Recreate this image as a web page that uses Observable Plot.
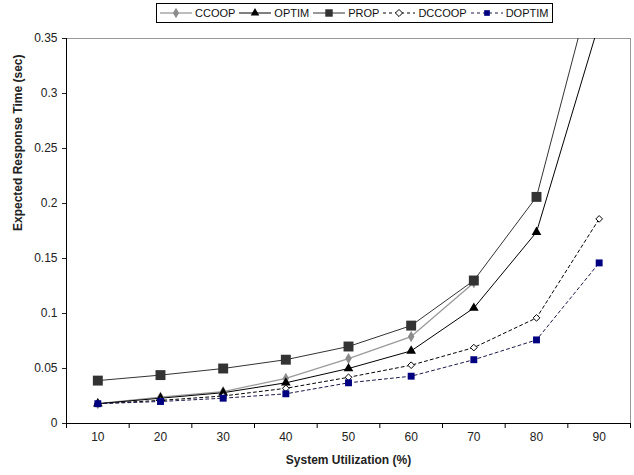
<!DOCTYPE html>
<html><head><meta charset="utf-8">
<script src="https://cdn.jsdelivr.net/npm/d3@7"></script>
<script src="https://cdn.jsdelivr.net/npm/@observablehq/plot@0.6"></script>
<style>
body{margin:0;background:#fff;font-family:"Liberation Sans",Arial,sans-serif;}
#wrap{position:relative;width:634px;height:475px;}
#legend{height:25px;position:relative;}
#legend .box{position:absolute;left:156px;top:3px;width:397px;height:20px;border:1px solid #000;display:flex;align-items:center;font-size:11px;color:#111;box-sizing:border-box;padding-left:2px;white-space:nowrap;}
#legend .item{display:flex;align-items:center;margin-right:3px;}
#legend svg{margin-right:2px;}
</style></head>
<body><div id="wrap"><div id="legend"><div class="box" id="lbox"></div></div><div id="chart"></div></div>
<script>
const utilization = [10, 20, 30, 40, 50, 60, 70, 80, 90];
const ccoop  = [0.018, 0.024, 0.029, 0.041, 0.059, 0.079, 0.128];
const optim  = [0.018, 0.023, 0.028, 0.037, 0.050, 0.066, 0.105, 0.174, 0.364];
const prop   = [0.039, 0.044, 0.050, 0.058, 0.070, 0.089, 0.130, 0.206, 0.423];
const dccoop = [0.018, 0.021, 0.025, 0.032, 0.042, 0.053, 0.069, 0.096, 0.186];
const doptim = [0.018, 0.020, 0.023, 0.027, 0.037, 0.043, 0.058, 0.076, 0.146];
const yTicks = [0, 0.05, 0.1, 0.15, 0.2, 0.25, 0.3, 0.35];
const yTickLabels = ["0", "0.05", "0.1", "0.15", "0.2", "0.25", "0.3", "0.35"];
const xTickMarks = [5, 15, 25, 35, 45, 55, 65, 75, 85, 95];
const seriesNames = ["CCOOP", "OPTIM", "PROP", "DCCOOP", "DOPTIM"];

const styles = {
  CCOOP:  {stroke:"#9a9a9a", width:1.3, dash:null, symbol:"diamond", fill:"#8c8c8c", mstroke:"none", r:3.4},
  OPTIM:  {stroke:"#000", width:1, dash:null, symbol:"triangle", fill:"#000", mstroke:"none", r:3.6},
  PROP:   {stroke:"#333", width:1, dash:null, symbol:"square", fill:"#333", mstroke:"none", r:5.6},
  DCCOOP: {stroke:"#000", width:1, dash:"3,3", symbol:"diamond2", fill:"#fff", mstroke:"#000", r:3},
  DOPTIM: {stroke:"#1a1a4a", width:1, dash:"3,3", symbol:"square", fill:"#000080", mstroke:"none", r:3.9}
};
const values = {CCOOP:ccoop, OPTIM:optim, PROP:prop, DCCOOP:dccoop, DOPTIM:doptim};
const rows = seriesNames.flatMap(s => values[s].map((v,i) => ({series:s, x:utilization[i], y:v})));

const marks = [];
for (const s of seriesNames) {
  const st = styles[s];
  const d = rows.filter(r => r.series === s);
  marks.push(Plot.line(d, {x:"x", y:"y", stroke:st.stroke, strokeWidth:st.width, strokeDasharray:st.dash, clip:true}));
}
for (const s of seriesNames) {
  const st = styles[s];
  const d = rows.filter(r => r.series === s);
  marks.push(Plot.dot(d, {x:"x", y:"y", symbol:()=>st.symbol, r:st.r, fill:st.fill, stroke:st.mstroke, strokeWidth:1, clip:true}));
}

const chart = Plot.plot({
  width:634, height:450,
  marginTop:13, marginBottom:52, marginLeft:66, marginRight:4,
  style:{fontFamily:"Liberation Sans, Arial, sans-serif", fontSize:"12px", color:"#222", background:"#fff"},
  x:{domain:[5,95], axis:null},
  y:{domain:[0,0.35], axis:null},
  symbol:{type:"identity"},
  marks:[
    Plot.ruleY([0.35], {stroke:"#999"}),
    Plot.ruleX([95], {stroke:"#999"}),
    ...marks,
    Plot.axisX({ticks:xTickMarks, tickFormat:()=>"", tickSize:5, stroke:"#000", label:null}),
    Plot.axisX({ticks:utilization, tickSize:0, tickPadding:9, fontSize:12, fill:"#222", label:null}),
    Plot.axisY({ticks:yTicks, tickFormat:(d,i)=>yTickLabels[i], tickSize:4, tickPadding:5, fontSize:12, fill:"#222", label:null}),
    Plot.ruleX([5], {stroke:"#000"}),
    Plot.ruleY([0], {stroke:"#000"}),
    Plot.text(["System Utilization (%)"], {frameAnchor:"bottom", dy:40, fontWeight:"bold", fontSize:12, fill:"#222"}),
    Plot.text(["Expected Response Time (sec)"], {frameAnchor:"left", dx:-48, rotate:-90, fontWeight:"bold", fontSize:12, fill:"#222"})
  ]
});
document.getElementById("chart").appendChild(chart);

// legend
const lbox = document.getElementById("lbox");
for (const s of seriesNames) {
  const st = styles[s];
  const item = document.createElement("div"); item.className = "item";
  const svg = d3.create("svg").attr("width", 34).attr("height", 12);
  svg.append("line").attr("x1",1).attr("x2",33).attr("y1",6).attr("y2",6).attr("stroke",st.stroke).attr("stroke-width",st.width).attr("stroke-dasharray",st.dash);
  const symMap = {diamond:d3.symbolDiamond, triangle:d3.symbolTriangle, square:d3.symbolSquare, diamond2:d3.symbolDiamond2};
  const size = Math.PI * (s==="PROP"?4.2:3.2) ** 2;
  svg.append("path").attr("d", d3.symbol(symMap[st.symbol], size)()).attr("transform","translate(17,6)").attr("fill",st.fill).attr("stroke",st.mstroke==="none"?null:st.mstroke);
  item.appendChild(svg.node());
  const t = document.createElement("span"); t.textContent = s; item.appendChild(t);
  lbox.appendChild(item);
}
</script></body></html>
